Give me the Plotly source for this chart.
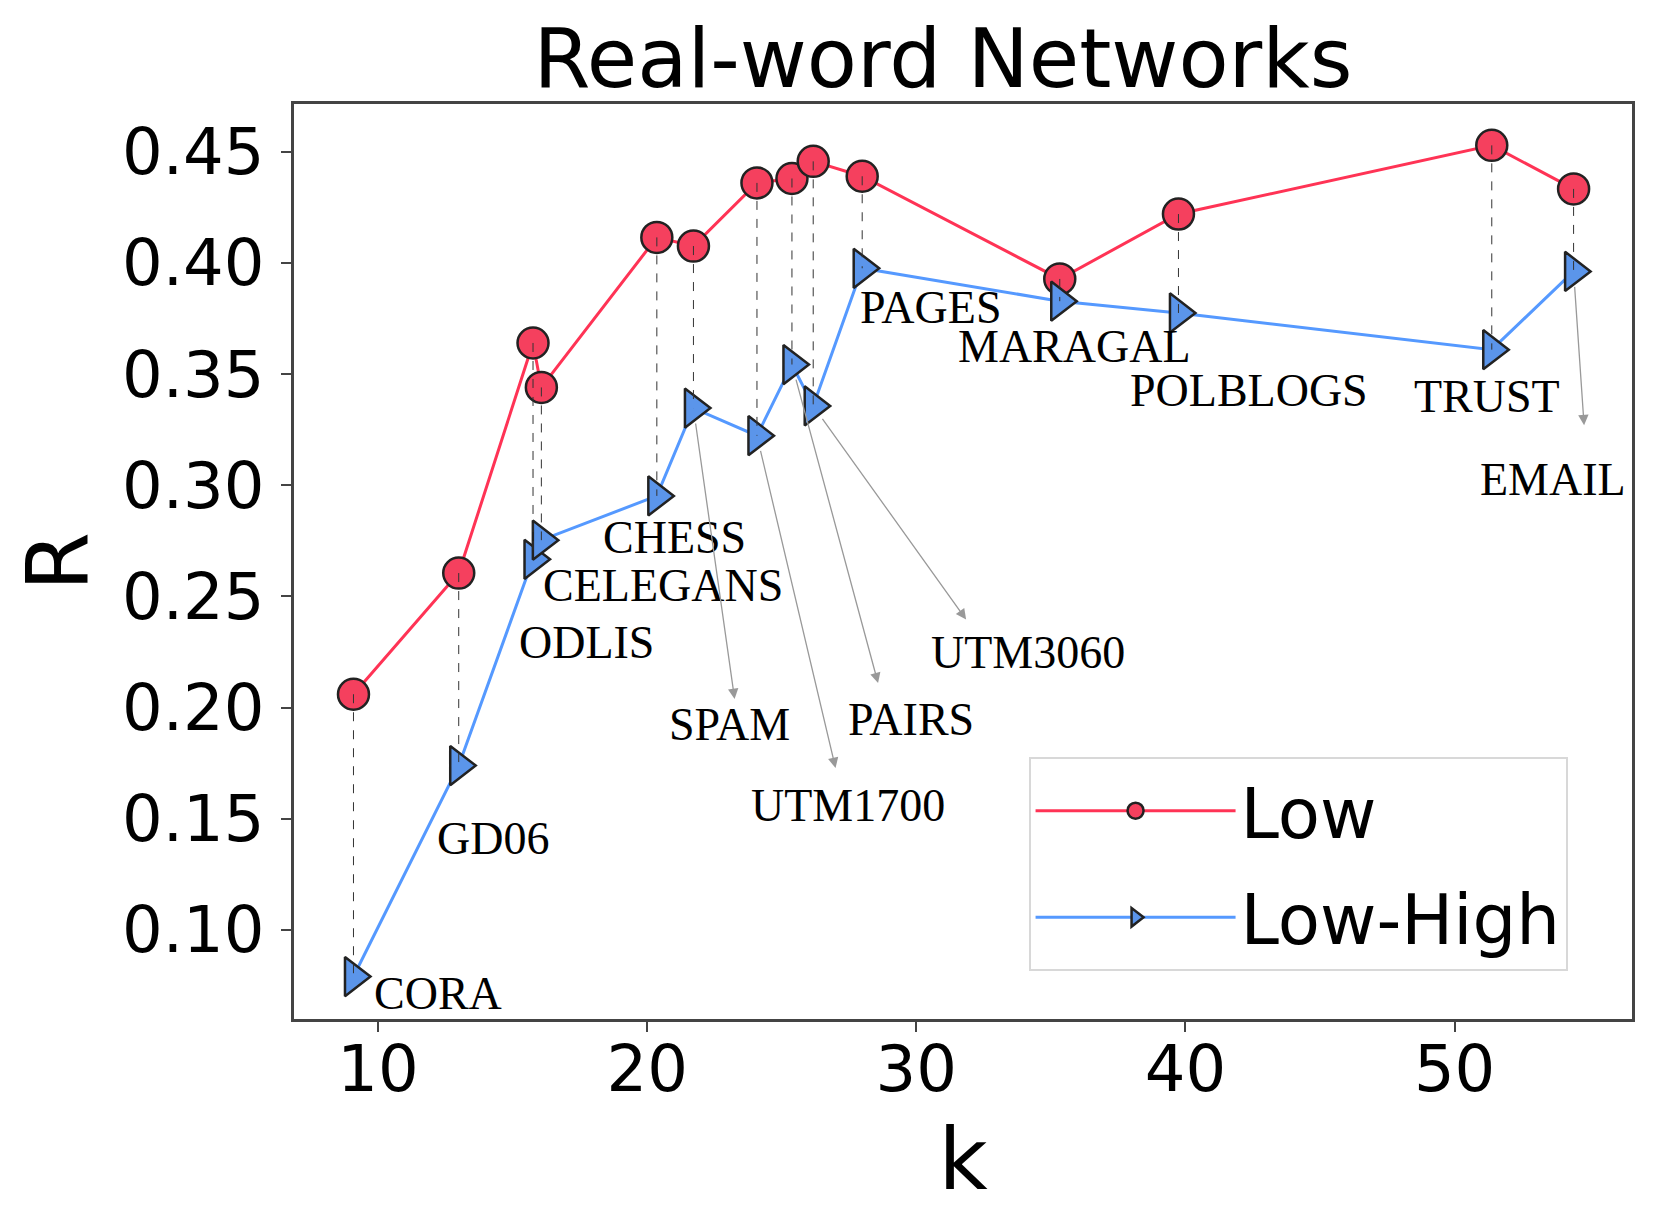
import plotly.graph_objects as go

# networks, mean degree k and R for the two strategies
networks = ["CORA", "GD06", "ODLIS", "CELEGANS", "CHESS", "SPAM", "UTM1700",
            "PAIRS", "UTM3060", "PAGES", "MARAGAL", "POLBLOGS", "TRUST", "EMAIL"]
k = [9.09, 13.0, 15.76, 16.07, 20.36, 21.72, 24.08, 25.38, 26.17, 27.99, 35.33, 39.74, 51.38, 54.42]
r_low = [0.206, 0.2605, 0.364, 0.344, 0.4115, 0.4076, 0.436, 0.438, 0.4457, 0.439,
         0.3928, 0.422, 0.4529, 0.4333]
r_low_high = [0.079, 0.1739, 0.2667, 0.2753, 0.2952, 0.3347, 0.3223, 0.3543, 0.3357,
              0.3976, 0.3828, 0.3775, 0.361, 0.3962]

# label placement (text left edge, middle) and arrow head, in axis units
label_pos = {
    "CORA": (9.76, 0.0715), "GD06": (12.13, 0.1413), "ODLIS": (15.17, 0.2291),
    "CELEGANS": (16.07, 0.2549), "CHESS": (18.28, 0.2764), "SPAM": (20.73, 0.1924),
    "UTM1700": (23.77, 0.1561), "PAIRS": (27.40, 0.1947), "UTM3060": (30.47, 0.2248),
    "PAGES": (27.83, 0.3801), "MARAGAL": (31.46, 0.3624), "POLBLOGS": (37.85, 0.3428),
    "TRUST": (48.42, 0.3399), "EMAIL": (50.87, 0.3027),
}
arrow_head = {
    "SPAM": (23.25, 0.2038), "UTM1700": (27.00, 0.1728), "PAIRS": (28.58, 0.2110),
    "UTM3060": (31.85, 0.2396), "EMAIL": (54.81, 0.3270),
}

RED = "#f5405e"
BLUE = "#5b95ea"

fig = go.Figure()
fig.add_trace(go.Scatter(
    x=k, y=r_low, name="Low", mode="lines+markers", legendgroup="low",
    line=dict(color="#ff3355", width=3),
    marker=dict(symbol="circle", size=31, color=RED, line=dict(color="#222", width=2.5)),
))
fig.add_trace(go.Scatter(
    x=k, y=r_low_high, name="Low-High", mode="lines+markers", legendgroup="lowhigh",
    line=dict(color="#5599ff", width=3),
    marker=dict(symbol="triangle-right", size=34, color=BLUE, line=dict(color="#222", width=2.5)),
))

# dashed drop lines between the two results of every network
vx, vy = [], []
for xi, a, b in zip(k, r_low, r_low_high):
    vx += [xi, xi, None]
    vy += [a, b, None]
fig.add_trace(go.Scatter(x=vx, y=vy, mode="lines", showlegend=False, hoverinfo="skip",
                         line=dict(color="#333", width=1, dash="dash")))

for name, xi, yi in zip(networks, k, r_low_high):
    tx, ty = label_pos[name]
    fig.add_annotation(x=tx, y=ty, text=name, showarrow=False, xanchor="left", yanchor="middle",
                       font=dict(family="Liberation Serif", size=46, color="black"))
    if name in arrow_head:
        hx, hy = arrow_head[name]
        fig.add_annotation(x=hx, y=hy, ax=xi, ay=yi, axref="x", ayref="y", text="",
                           showarrow=True, arrowhead=2, arrowsize=1.6, arrowwidth=1.3,
                           arrowcolor="#999", startstandoff=14)

fig.update_layout(
    width=1649, height=1201,
    paper_bgcolor="white", plot_bgcolor="white",
    margin=dict(l=286, r=25, t=96, b=190),
    font=dict(family="DejaVu Sans", color="black"),
    title=dict(text="Real-word Networks", x=0.567, xanchor="center", y=0.958, yanchor="middle",
               font=dict(size=82)),
    showlegend=True,
    legend=dict(x=0.549, y=0.286, xanchor="left", yanchor="top",
                font=dict(size=69), bgcolor="white", bordercolor="#d8d8d8", borderwidth=2,
                itemwidth=200, tracegroupgap=14),
)
fig.update_xaxes(range=[6.88, 56.59], tickvals=[10, 20, 30, 40, 50], showgrid=False,
                 zeroline=False, showline=True, linecolor="#444", linewidth=2.5, mirror=True,
                 ticks="outside", ticklen=10, tickwidth=2, tickcolor="#444",
                 tickfont=dict(size=64), ticklabelstandoff=-18,
                 title=dict(text="k", font=dict(size=85), standoff=26))
fig.update_yaxes(range=[0.0599, 0.4715], tickvals=[0.10, 0.15, 0.20, 0.25, 0.30, 0.35, 0.40, 0.45],
                 tickformat=".2f", showgrid=False, zeroline=False, showline=True, linecolor="#444",
                 linewidth=2.5, mirror=True, ticks="outside", ticklen=10, tickwidth=2,
                 tickcolor="#444", tickfont=dict(size=64), ticklabelstandoff=4,
                 title=dict(text="R", font=dict(size=85), standoff=22))

fig.write_html("out.html")
